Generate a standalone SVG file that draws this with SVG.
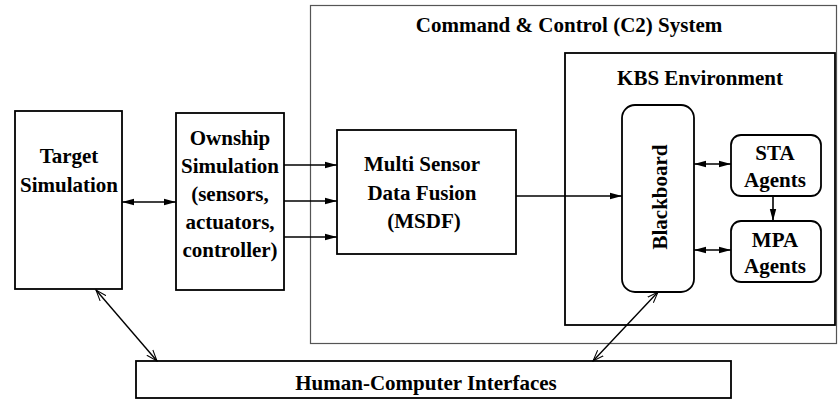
<svg xmlns="http://www.w3.org/2000/svg" width="840" height="400" viewBox="0 0 840 400">
<style>
  .box { fill: #fff; stroke: #000; stroke-width: 1.8; }
  .thin { fill: none; stroke: #555; stroke-width: 1.2; }
  .lbl { font-family: 'Liberation Serif', Tinos, 'Times New Roman', 'DejaVu Serif', serif; font-weight: 700; font-size: 21px; fill: #000; text-anchor: middle; }
  .conn { fill: none; stroke: #000; stroke-width: 1.6; }
  .diag { fill: none; stroke: #000; stroke-width: 1.4; }
</style>
<defs>
  <marker id="ah" markerUnits="userSpaceOnUse" markerWidth="12" markerHeight="8" refX="12" refY="4" orient="auto-start-reverse">
    <path d="M0,0.8 L12,4 L0,7.2 z" fill="#000"/>
  </marker>
  <marker id="oh" markerUnits="userSpaceOnUse" markerWidth="12" markerHeight="10" refX="11" refY="5" orient="auto-start-reverse">
    <path d="M0,1 L11,5 L0,9" fill="none" stroke="#000" stroke-width="1"/>
  </marker>
</defs>

<g id="c2-system">
  <rect class="thin" x="310.5" y="5.5" width="526" height="338"/>
  <text class="lbl" x="569" y="32" font-family="Liberation Serif">Command &amp; Control (C2) System</text>
</g>

<g id="kbs-environment">
  <rect class="box" x="565" y="53" width="270" height="272"/>
  <text class="lbl" x="700" y="85">KBS Environment</text>
</g>

<g id="target-simulation">
  <rect class="box" x="15" y="111" width="107" height="178"/>
  <text class="lbl" x="69" y="163">Target</text>
  <text class="lbl" x="69" y="192">Simulation</text>
</g>

<g id="ownship-simulation">
  <rect class="box" x="176" y="113" width="108" height="177"/>
  <text class="lbl" x="230" y="145">Ownship</text>
  <text class="lbl" x="230" y="173">Simulation</text>
  <text class="lbl" x="230" y="201">(sensors,</text>
  <text class="lbl" x="230" y="229">actuators,</text>
  <text class="lbl" x="230" y="257">controller)</text>
</g>

<g id="msdf">
  <rect class="box" x="337" y="130" width="179" height="124"/>
  <text class="lbl" x="422" y="171">Multi Sensor</text>
  <text class="lbl" x="422" y="200">Data Fusion</text>
  <text class="lbl" x="424" y="228">(MSDF)</text>
</g>

<g id="blackboard">
  <rect class="box" x="622" y="105" width="72" height="187" rx="13" ry="13"/>
  <text class="lbl" transform="translate(667,197) rotate(-90)">Blackboard</text>
</g>

<g id="sta-agents">
  <rect class="box" x="731" y="135" width="90" height="61" rx="10" ry="10"/>
  <text class="lbl" x="775" y="160">STA</text>
  <text class="lbl" x="775" y="187">Agents</text>
</g>

<g id="mpa-agents">
  <rect class="box" x="731" y="221" width="90" height="61" rx="10" ry="10"/>
  <text class="lbl" x="775" y="247">MPA</text>
  <text class="lbl" x="775" y="273">Agents</text>
</g>

<g id="hci">
  <rect class="box" x="136" y="361" width="595" height="37"/>
  <text class="lbl" x="426" y="390">Human-Computer Interfaces</text>
</g>

<g id="connectors">
  <line class="conn" x1="122" y1="202" x2="176" y2="202" marker-start="url(#ah)" marker-end="url(#ah)"/>
  <line class="conn" x1="284" y1="165" x2="337" y2="165" marker-end="url(#ah)"/>
  <line class="conn" x1="284" y1="201" x2="337" y2="201" marker-end="url(#ah)"/>
  <line class="conn" x1="284" y1="237" x2="337" y2="237" marker-end="url(#ah)"/>
  <line class="conn" x1="516" y1="196" x2="622" y2="196" marker-end="url(#ah)"/>
  <line class="conn" x1="694" y1="164" x2="731" y2="164" marker-start="url(#ah)" marker-end="url(#ah)"/>
  <line class="conn" x1="694" y1="250" x2="731" y2="250" marker-start="url(#ah)" marker-end="url(#ah)"/>
  <line class="conn" x1="773" y1="196" x2="773" y2="221" marker-end="url(#ah)"/>
  <line class="diag" x1="96" y1="290" x2="157" y2="361" marker-start="url(#oh)" marker-end="url(#oh)"/>
  <line class="diag" x1="658" y1="292" x2="593" y2="361" marker-start="url(#oh)" marker-end="url(#oh)"/>
</g>
</svg>
